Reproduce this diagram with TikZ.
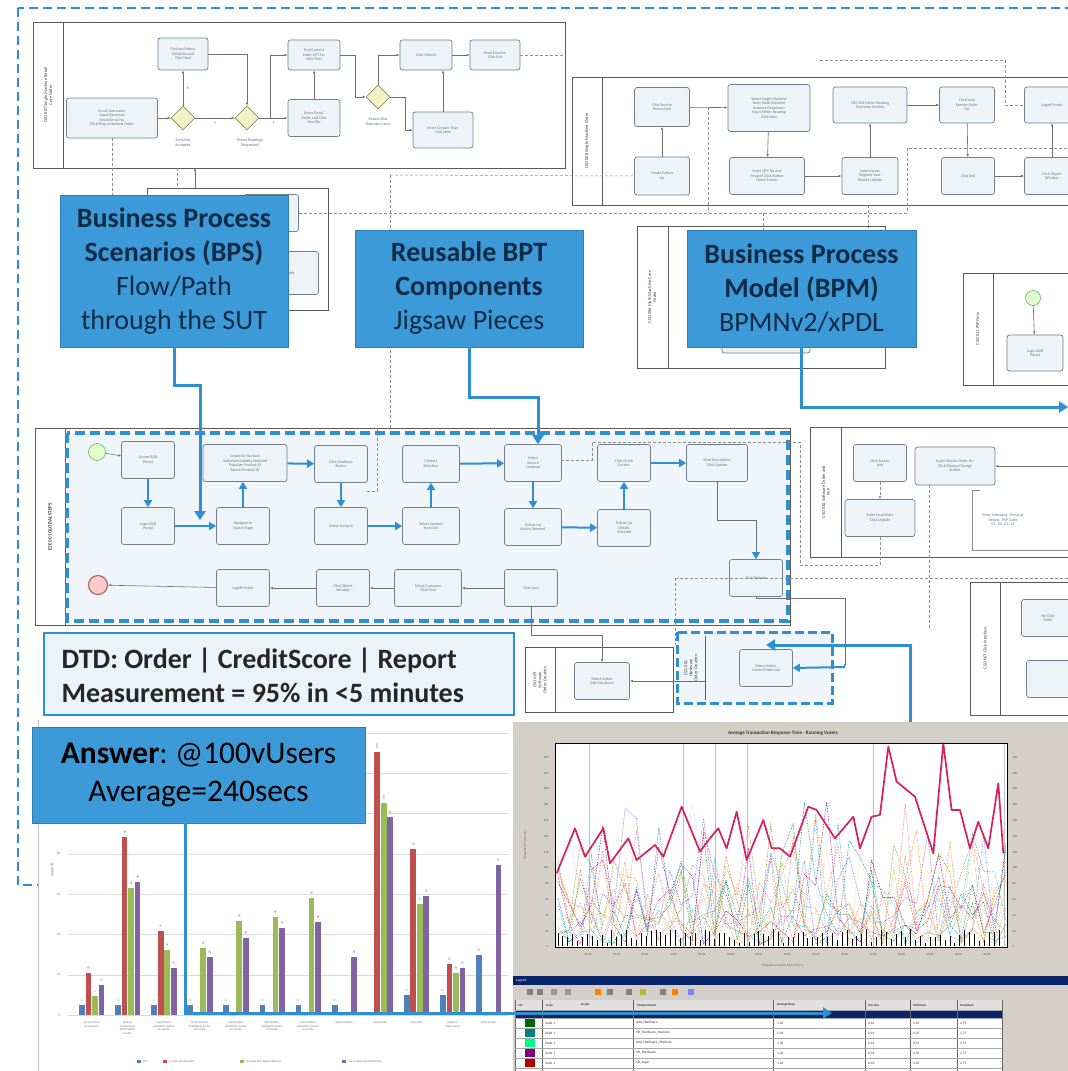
\documentclass[tikz,border=0pt]{standalone}
\usepackage{fontspec}
\setmainfont{Carlito}
\frenchspacing
\usetikzlibrary{arrows.meta,shapes.geometric}

\definecolor{bpmblue}{HTML}{2F8FD3}
\definecolor{callfill}{HTML}{3D9AD8}
\definecolor{callline}{HTML}{2C7DB8}
\definecolor{callink}{HTML}{0F2B45}
\definecolor{taskfill}{HTML}{EEF3F8}
\definecolor{taskline}{HTML}{6E7F90}
\definecolor{taskink}{HTML}{6A7480}
\definecolor{gatefill}{HTML}{F4F2C4}
\definecolor{gateline}{HTML}{8C8C60}
\definecolor{laneline}{HTML}{5A5A5A}
\definecolor{seqgray}{HTML}{707070}
\definecolor{lanefill}{HTML}{EFF5FB}
\definecolor{dtdfill}{HTML}{EAF3FA}
\definecolor{xlblue}{HTML}{4F81BD}
\definecolor{xlred}{HTML}{C0504D}
\definecolor{xlgreen}{HTML}{9BBB59}
\definecolor{xlpurple}{HTML}{8064A2}
\definecolor{lrgray}{HTML}{D4D0C8}
\definecolor{lrcrimson}{HTML}{D62060}
\definecolor{lrnavy}{HTML}{0A246A}

\tikzset{
  task/.style={draw=taskline,fill=taskfill,rounded corners=2.5pt,line width=0.7pt,
    minimum width=53pt,minimum height=37pt,inner sep=1pt,align=center,
    font=\fontsize{4}{4.6}\selectfont,text=taskink},
  gate/.style={diamond,draw=gateline,fill=gatefill,minimum size=24pt,inner sep=0pt,line width=0.6pt},
  lane/.style={draw=laneline,line width=0.8pt},
  lanelabel/.style={rotate=90,font=\fontsize{4.5}{5}\selectfont,align=center,text=black!75},
  seq/.style={draw=seqgray,line width=0.6pt,-{Latex[length=3pt,width=2.5pt]}},
  msg/.style={draw=seqgray!80,line width=0.5pt,dash pattern=on 3pt off 2pt},
  flow/.style={draw=bpmblue,line width=2pt,-{Triangle[width=8pt,length=7pt]}},
  big/.style={draw=bpmblue,line width=3pt,-{Triangle[width=11pt,length=9pt]}},
  callout/.style={fill=callfill,draw=callline,line width=0.8pt,align=center,text=callink,
    font=\fontsize{28}{34}\selectfont},
  tinytext/.style={font=\fontsize{4}{4.5}\selectfont,text=taskink,align=center},
  evstart/.style={circle,draw=black!50!green!60,fill=green!60!yellow!20,minimum size=17pt,inner sep=0pt,line width=0.6pt},
  evend/.style={circle,draw=red!50!black!60,fill=red!20,minimum size=19pt,inner sep=0pt,line width=1.2pt},
}

\begin{document}
\begin{tikzpicture}[x=1pt,y=-1pt]
\useasboundingbox (0,0) rectangle (1068,1071);
\fill[white] (0,0) rectangle (1068,1071);
\clip (0,0) rectangle (1068,1071);

% outer frame
\draw[bpmblue,line width=2.4pt,dash pattern=on 9pt off 5pt] (18,8) rectangle (1090,885);

% ---- CSO 007 lane
\draw[lane] (33,22) rectangle (565,168);
\draw[lane] (63,22) -- (63,168);
\node[lanelabel] at (48,95) {CSO 007 Single Machine Retail\\Core Order};
\node[task,minimum width=91pt,minimum height=40pt] (t1) at (112,118) {Email Username\\Input Password\\Email Serial No\\Click Ring a Machine Order};
\node[gate] (d1) at (183,118) {};
\node[task,minimum width=50pt,minimum height=32pt] (t2) at (183,54) {Find and Select\\Detail Kit and\\Click Next};
\node[gate] (d2) at (247,118) {};
\node[task,minimum width=52pt,minimum height=30pt] (t3) at (314,55) {Find Current\\Enter QTY No\\Click Next};
\node[task,minimum width=52pt,minimum height=37pt] (t4) at (314,118) {Enter Detail\\Fields and Click\\Next Bu};
\node[gate] (d3) at (378,97) {};
\node[task,minimum width=52pt,minimum height=30pt] (t5) at (426,55) {Click Submit};
\node[task,minimum width=60pt,minimum height=36pt] (t6) at (443,130) {Enter Greater Than\\Click Next};
\node[task,minimum width=50pt,minimum height=30pt] (t7) at (495,55) {Send Email to\\Click Exit};
\node[tinytext] at (183,143) {Serial No\\Accepted};
\node[tinytext] at (250,143) {Meter Readings\\Requested};
\node[tinytext] at (378,122) {Reason Box\\Operator Input};
\draw[seq] (t1) -- (d1);
\draw[seq] (d1) -- node[right,tinytext]{N} (t2);
\draw[seq] (t2.east) -| (d2.north);
\draw[seq] (d1) -- node[below,tinytext]{Y} (d2);
\draw[seq] (d2.east) -- (270,118) |- (t3.west);
\draw[seq] (d2.east) -- node[below,tinytext]{Y} (t4.west);
\draw[seq] (t4) -- (t3);
\draw[seq] (t3.east) -- (355,55) |- (d3.west);
\draw[seq] (d3.north) |- (t5.west);
\draw[seq] (d3.east) -- (405,97) |- (t6.west);
\draw[seq] (t6.north) -- (t6.north |- t5.south);
\draw[seq] (t5) -- (t7);

% ---- small lane under BPS
\draw[lane] (147,188) rectangle (328,310);
\node[task,minimum width=55pt,minimum height=37pt] (u1) at (271,213) {};
\node[task,minimum width=57pt,minimum height=43pt] (u2) at (290,273) {Order};
\draw[msg] (t1.south) -- (112,195);
\draw[msg] (177,168) -- (177,188);
\draw[seq] (195,188) -- (195,168);

% ---- CSO 008 lane
\draw[lane] (572,77) rectangle (1090,205);
\draw[lane] (602,77) -- (602,205);
\node[lanelabel] at (587,141) {CSO 008 Single Machine Order};
\node[task,minimum width=55pt,minimum height=39pt] (s1) at (662,107) {Click Service\\Promo Link};
\node[task,minimum width=55pt,minimum height=38pt] (s2) at (662,176) {Create Follow\\Up};
\node[task,minimum width=82pt,minimum height=47pt] (s3) at (769,108) {Select Single Machine\\from Multi Machine\\Instance Dropdown\\Input Meter Reading\\Click Next};
\node[task,minimum width=75pt,minimum height=37pt] (s4) at (767,176) {Enter QTY No and\\Product Click Button\\Check Entries};
\node[task,minimum width=74pt,minimum height=36pt] (s5) at (870,105) {CSO 008 Meter Reading\\Overview Section};
\node[task,minimum width=56pt,minimum height=37pt] (s6) at (870,176) {Input Excess\\Register Save\\Results Update};
\node[task,minimum width=55pt,minimum height=36pt] (s7) at (967,105) {Click Save\\Service Order\\No};
\node[task,minimum width=53pt,minimum height=37pt] (s8) at (968,176) {Click Exit};
\node[task,minimum width=55pt,minimum height=36pt] (s9) at (1052,105) {Logoff Portal};
\node[task,minimum width=55pt,minimum height=37pt] (s10) at (1052,176) {Click Object\\Window};
\draw[seq] (s2) -- (s1);
\draw[seq] (s1) -- (s3);
\draw[seq] (s3) -- (s4);
\draw[seq] (s4) -- (s6);
\draw[seq] (s6) -- (s5);
\draw[seq] (s5) -- (s7);
\draw[seq] (s7) -- (s8);
\draw[seq] (s8) -- (s10);
\draw[seq] (s10) -- (s9);

% dashed message lines
\draw[msg] (u1.east) -- (907,213) -- (907,148) -- (1090,148);
\draw[msg] (390,175) -- (390,428);
\draw[msg] (390,175) -- (s2.west);
\draw[msg] (708,107) -- (708,213);
\draw[msg] (763,213) -- (763,230);
\draw[msg] (868,205) -- (868,230);
\draw[msg] (t7.east) -- (565,55);
\draw[msg] (820,60) -- (1005,60) |- (s9.west);

% ---- CSO 006 lane
\draw[lane] (637,226) rectangle (885,368);
\draw[lane] (668,226) -- (668,368);
\node[lanelabel] at (652,297) {CSO 006 Multi Machine Core\\Order};
\node[task,minimum width=88pt,minimum height=50pt] (v1) at (766,328) {};

% ---- CSO 011 lane
\draw[lane] (963,273) rectangle (1090,385);
\draw[lane] (993,273) -- (993,385);
\node[lanelabel] at (978,329) {CSO 011 PSP Only};
\node[evstart,minimum size=15pt] (p0) at (1033,298) {};
\node[task,minimum width=56pt,minimum height=36pt] (p1) at (1035,353) {Login B2B\\Portal};
\draw[seq] (p0) -- (p1);

% ---- E2E 001 lane
\draw[lane] (35,428) rectangle (790,625);
\draw[lane] (65,428) -- (65,625);
\node[lanelabel,font=\fontsize{5}{6}\selectfont\bfseries] at (50,527) {E2E 001 GLOBAL STEPS};
\draw[bpmblue,line width=3.5pt,dash pattern=on 10pt off 5pt,fill=lanefill] (67,433) rectangle (788,621);
\node[evstart] (st) at (97,452) {};
\node[task] (m1) at (148,460) {Access B2B\\Portal};
\node[task] (m2) at (148,526) {Login B2B\\Portal};
\node[task,minimum width=84pt] (m3) at (245,463) {Create \& Maintain\\Indicators/Validity Selected\\Populate Product ID\\Search Product ID};
\node[task] (m4) at (243,526) {Navigate to\\Search Page};
\node[task] (m5) at (341,464) {Click Continue\\Button};
\node[task] (m6) at (341,526) {Select Account};
\node[task,minimum width=57pt] (m7) at (431,464) {Contact\\Selection};
\node[task,minimum width=57pt] (m8) at (431,526) {Select Contact\\from List};
\node[task,minimum width=57pt] (m9) at (533,463) {Select\\Service\\Continue};
\node[task,minimum width=57pt] (m10) at (533,527) {Follow Up\\Action Selected};
\node[task] (m11) at (624,463) {Click Check\\Entries};
\node[task] (m12) at (624,528) {Follow Up\\Details\\Selected};
\node[task,minimum width=61pt] (m13) at (717,463) {Send Description\\Click Update};
\node[task] (m14) at (756,578) {Click Release};
\node[task] (m15) at (531,588) {Click Save};
\node[task,minimum width=67pt] (m16) at (428,588) {Select Customer\\Click Find};
\node[task] (m17) at (343,588) {Click Object\\Window};
\node[task] (m18) at (243,588) {Logoff Portal};
\node[evend] (en) at (98,585) {};
\draw[seq] (st) -- (m1);
\draw[flow] (m1) -- (m2);
\draw[flow] (m2) -- (m4);
\draw[flow] (m4.north) -- (m4.north |- m3.south);
\draw[flow] (m3) -- (m5);
\draw[flow] (m5) -- (m6);
\draw[flow] (m6) -- (m8);
\draw[flow] (m8) -- (m7);
\draw[flow] (m7) -- (m9);
\draw[flow] (m9) -- (m10);
\draw[flow] (m10) -- (m12);
\draw[flow] (m12) -- (m11);
\draw[flow] (m11) -- (m13);
\draw[draw=seqgray,line width=0.6pt,-{Triangle[width=8pt,length=7pt,color=bpmblue,fill=bpmblue]}] (m13.south) |- (756,520) -- (m14.north);
\draw[seq] (m15) -- (m16);
\draw[seq] (m16) -- (m17);
\draw[seq] (m17) -- (m18);
\draw[seq] (m18) -- (en);
\draw[msg] (367,491) -- (377,491) -- (377,428);
\draw[msg] (561,460) -- (592,460) -- (592,442) -- (800,442) -- (800,565) -- (880,565);

% ---- CSO 010 lane
\draw[lane] (810,427) rectangle (1090,557);
\draw[lane] (841,427) -- (841,557);
\node[lanelabel] at (826,492) {CSO 010 Software Order and\\PSP};
\node[task] (c1) at (880,463) {Click Source\\Link};
\node[task,minimum width=70pt] (c2) at (880,518) {Enter Final Entry\\Click Update};
\node[task,minimum width=80pt,minimum height=38pt] (c3) at (955,466) {Input Service Order No\\Click Display/Change\\button};
\node[tinytext,text width=58pt] (c4) at (1003,520) {Enter following: Personal\\Details, PSP Code\\01, 02, 21, 25};
\draw[laneline!70,line width=0.5pt] (980,490) -- (972,490) -- (972,550) -- (1090,550);
\draw[msg,-{Latex[length=3pt,width=2.5pt]}] (c1) -- (c2);
\draw[msg] (c2.south) -- (880,565);
\draw[seq] (1090,466) -- (c3.east);
\draw[msg] (929,485) -- (929,630);

% ---- CSO 009 lane
\draw[lane] (525,647) rectangle (673,712);
\draw[lane] (555,647) -- (555,712);
\node[lanelabel] at (540,680) {CSO 009\\Software\\Order Creation};
\node[task,minimum width=55pt] (k1) at (602,681) {Select Action\\Add/Hardware};
\draw[seq] (m15.south) |- (602,635) -- (k1.north);

% ---- CSO 00C lane
\draw[bpmblue,line width=3pt,dash pattern=on 9pt off 4pt,fill=lanefill] (677,632) rectangle (832,703);
\draw[lane] (705,636) -- (705,700);
\node[lanelabel] at (691,668) {CSO 00C\\Hardware\\Order Creation};
\node[task] (h1) at (766,668) {Select Action\\Create/Order List};
\draw[seq] (705,681) -- (k1.east);
\draw[msg] (675,578) -- (1090,578);
\draw[msg] (675,578) -- (675,645);
\draw[seq] (m14.south) -- (756,598) -| (845,667);

% ---- CSO 007 click lane
\draw[lane] (970,582) rectangle (1090,715);
\draw[lane] (1000,582) -- (1000,715);
\node[lanelabel] at (985,648) {CSO 007 Click Interface};
\node[task] (w1) at (1048,618) {Ne Click\\Order};
\node[task] (w2) at (1053,679) {};

% ---- callouts
\node[callout,minimum width=228pt,minimum height=152pt] (bps) at (174,271)
  {\textbf{Business Process}\\\textbf{Scenarios (BPS)}\\Flow/Path\\through the SUT};
\node[callout,minimum width=228pt,minimum height=117pt] (bpt) at (469,288.5)
  {\textbf{Reusable BPT}\\\textbf{Components}\\Jigsaw Pieces};
\node[callout,minimum width=229pt,minimum height=117pt] (bpm) at (801.5,288.5)
  {\textbf{Business Process}\\\textbf{Model (BPM)}\\BPMNv2/xPDL};

\coordinate (bpsend) at (200,520);
\draw[big] (bps.south) |- (200,385) -- (bpsend);
\coordinate (bptjog) at (538,397);
\draw[big] (bpt.south) |- (bptjog) -- (bptjog |- m9.north);
\coordinate (bpmend) at (1068,407);
\draw[big] (bpm.south) |- (bpmend);
\coordinate (hwjog) at (910,645);
\coordinate (hwup) at (910,722);
\draw[big] (hwup) -- (hwjog) -- (h1.north |- hwjog);
\draw[flow] (845,667) -- (h1.east);

% ---- DTD box
\draw[bpmblue,line width=1.5pt,fill=dtdfill] (44,633) rectangle (514,715);
\node[anchor=west,align=left,font=\fontsize{28}{34}\selectfont\bfseries,text=black!85] (dtd) at (58,675)
  {DTD: Order | CreditScore | Report\\Measurement = 95\% in <5 minutes};

% ---- bar chart panel
\fill[white] (38,720) rectangle (515,1071);
\draw[black!25] (38,720) -- (38,1071);
\foreach \n in {0,...,7}{
  \draw[black!15] (68,{1015-\n*40.3}) -- (508,{1015-\n*40.3});
  \pgfmathtruncatemacro{\tk}{\n*20}
  \node[anchor=east,font=\fontsize{3.5}{4}\selectfont,text=black!50] at (64,{1015-\n*40.3}) {\tk};
}
\node[rotate=90,font=\fontsize{4}{4}\selectfont,text=black!55] at (52,870) {Seconds};
\foreach \i/\b/\r/\g/\p in {0/10/42/19/30,1/10/178/127/133,2/10/84/65/47,3/10/0/67/58,4/10/0/94/77,
  5/10/0/98/87,6/10/0/117/93,7/10/0/0/58,8/0/263/212/198,9/20/166/111/119,10/20/51/42/47,11/60/0/0/150}{
  \pgfmathsetmacro{\xb}{79+\i*36.1}
  \fill[xlblue] (\xb,1015) rectangle ++(5.8,-\b);
  \fill[xlred] ({\xb+6.5},1015) rectangle ++(5.8,-\r);
  \fill[xlgreen] ({\xb+13},1015) rectangle ++(5.8,-\g);
  \fill[xlpurple] ({\xb+19.5},1015) rectangle ++(5.8,-\p);
  \foreach \k/\h in {0/\b,1/\r,2/\g,3/\p}{
    \pgfmathtruncatemacro{\vv}{\h*20/40.3}
    \ifnum\vv>0
    \node[rotate=90,anchor=west,font=\fontsize{3}{3}\selectfont,text=black!60,inner sep=1pt] at ({\xb+2.9+\k*6.5},{1013-\h}) {\vv};
    \fi
  }
}
\foreach \i/\lab in {0/{Access Portal\\\& Accounts},1/{Analyse\\Components\\ATP Transfer\\Events},2/{Log Product\\Availability Action\\to Create},
  3/{Order Product\\Availability Action\\to Create},4/{Add Product\\Availability Action\\to Create},5/{Edit Product\\Availability Action\\to Create},
  6/{Save Product\\Availability Action\\to Create},7/{Standard Rate},8/{Sound Gain},9/{Core Gain},10/{Replace\\Opportunity},11/{Close Screen}}{
  \node[anchor=north,font=\fontsize{3}{3.6}\selectfont,text=black!55,align=center] at ({91.5+\i*36.1},1018) {\lab};
}
\foreach \x/\c/\lab in {137/xlblue/BTT,163/xlred/1st Test Run Baseline,240/xlgreen/2nd Test Run Single Machine,342/xlpurple/3rd Test Run Multi Machine}{
  \fill[\c] (\x,1060) rectangle ++(4,3);
  \node[anchor=west,font=\fontsize{3}{3}\selectfont,text=black!55,inner sep=1pt] at ({\x+5},1061.5) {\lab};
}

% ---- line chart panel
\fill[lrgray] (513,722) rectangle (1068,1071);
\node[font=\fontsize{5}{5}\selectfont\bfseries,text=black!80] (lrtitle) at (783,733) {Average Transaction Response Time - Running Vusers};
\fill[white] (555,743) rectangle (1007,947);
\foreach \x in {589,683,715,747,873,1004}{\draw[black!25] (\x,743) -- (\x,947);}
\foreach \n in {0,...,12}{
  \pgfmathtruncatemacro{\tk}{\n*20}
  \node[anchor=east,font=\fontsize{3}{3}\selectfont,text=black!70] at (552,{947-\n*15.8}) {\tk};
  \node[anchor=west,font=\fontsize{3}{3}\selectfont,text=black!70] at (1009,{947-\n*15.8}) {\tk};
}
\foreach \n/\t in {0/01:00,1/01:10,2/01:20,3/01:30,4/01:40,5/01:50,6/02:00,7/02:10,8/02:20,9/02:30,10/02:40,11/02:50,12/03:00,13/03:10,14/03:20}{
  \node[font=\fontsize{3}{3}\selectfont,text=black!70] at ({588+\n*28.5},955) {\t};
}
\node[font=\fontsize{3.5}{3.5}\selectfont,text=black!60] at (783,966) {Elapsed scenario time mm:ss};
\node[rotate=90,font=\fontsize{3.5}{3.5}\selectfont,text=black!60] at (525,845) {Response Time (sec)};
\pgfmathsetseed{7}
\foreach \c in {green!50!black,orange,magenta,cyan,violet,brown,teal,red!60,blue!60,olive,pink,yellow!70!black}{
  \draw[\c,densely dotted,line width=0.6pt] (558,{947-rnd*90})
    \foreach \i in {1,...,40}{ -- ({558+\i*11.2},{945-rnd*rnd*150}) };
}
\foreach \i in {0,...,90}{\draw[black,line width=1pt] ({558+\i*4.9},946) -- ++(0,{-3-rnd*14});}
\begin{scope}[shift={(510,720)},x=0.3333pt,y=-0.3333pt]
\draw[lrcrimson,line width=1.7pt,line join=round] plot coordinates {(140,460) (195,325) (225,410) (280,325) (300,430) (355,355) (380,420)
  (435,375) (460,410) (515,260) (570,395) (600,355) (625,325) (650,385) (680,275) (710,420) (760,300) (785,385) (810,385) (840,410)
  (895,260) (920,270) (975,355) (1030,290) (1050,385) (1085,290) (1110,285) (1135,80) (1160,185) (1215,230) (1270,400) (1300,70)
  (1325,270) (1350,270) (1380,385) (1405,305) (1435,385) (1465,190) (1480,400)};
\end{scope}
\draw[black,line width=0.8pt] (555,743) rectangle (1007,947);
% legend grid
\fill[lrnavy] (513,976) rectangle (1068,985);
\node[anchor=west,font=\fontsize{3.5}{3.5}\selectfont,text=white,inner sep=1pt] at (515,980.5) {Legend};
\foreach \x/\c in {527/black!50,537/black!50,551/black!40,565/black!40,595/orange,607/black!50,626/black!50,640/yellow!70!black,660/black!50,672/orange,688/blue!50}{
  \fill[\c] (\x,989) rectangle ++(6,6);
}
\fill[white] (515,1000) rectangle (1002,1071);
\fill[black!12] (515,1000) rectangle (1002,1010);
\fill[lrnavy] (515,1010) rectangle (1002,1018);
\foreach \x in {515,542,633,773,865,910,957,1002}{\draw[black!60,line width=0.4pt] (\x,1000) -- (\x,1071);}
\foreach \y in {1010,1018,1028,1038,1048,1058,1068}{\draw[black!35,line width=0.3pt] (515,\y) -- (1002,\y);}
\foreach \x/\t in {517/Col,545/Scale,580/Graph,636/Measurement,776/Average Resp,867/Std. Dev,912/Minimum,959/Maximum}{
  \node[anchor=west,font=\fontsize{3.2}{3.2}\selectfont\bfseries,text=black!80,inner sep=1pt] at (\x,1005) {\t};
}
\foreach \y/\c/\a/\m in {1023/green!40!black/Scale 1/Add\_Hardware,1033/teal/Scale 1/VR\_Hardware\_Machine,1043/green!50!cyan/Scale 1/Add\_Hardware\_Machine,1053/violet/Scale 1/VR\_Hardware,1063/red!70!black/Scale 1/VR\_Login}{
  \fill[\c] (525,{\y-4}) rectangle ++(10,8);
  \node[anchor=west,font=\fontsize{3.5}{3.5}\selectfont,text=black!80,inner sep=1pt] at (544,\y) {\a};
  \node[anchor=west,font=\fontsize{3.5}{3.5}\selectfont,text=black!80,inner sep=1pt] at (635,\y) {\m};
  \node[anchor=west,font=\fontsize{3.5}{3.5}\selectfont,text=black!80,inner sep=1pt] at (776,\y) {1.26};
  \node[anchor=west,font=\fontsize{3.5}{3.5}\selectfont,text=black!80,inner sep=1pt] at (867,\y) {0.41};
  \node[anchor=west,font=\fontsize{3.5}{3.5}\selectfont,text=black!80,inner sep=1pt] at (912,\y) {0.25};
  \node[anchor=west,font=\fontsize{3.5}{3.5}\selectfont,text=black!80,inner sep=1pt] at (959,\y) {2.75};
}

% ---- answer callout
\node[fill=callfill,draw=callline,line width=0.8pt,minimum width=333pt,minimum height=96pt,align=center,
  font=\fontsize{31.5}{38}\selectfont,text=black] (ans) at (198.5,775) {\textbf{Answer}: @100vUsers\\Average=240secs};
\coordinate (anscorner) at (185,1013);
\coordinate (anstip) at (832,1013);
\draw[big] (anscorner |- ans.south) -- (anscorner) -- (anstip);
\end{tikzpicture}
\end{document}
